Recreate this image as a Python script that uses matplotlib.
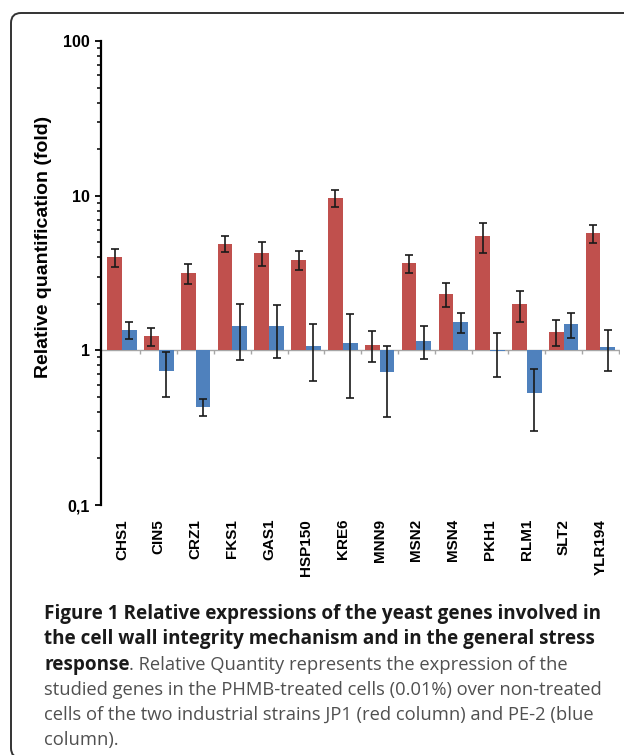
import matplotlib
matplotlib.use("Agg")
import matplotlib.pyplot as plt
import numpy as np
from matplotlib.patches import FancyBboxPatch
from matplotlib.ticker import FixedLocator, FixedFormatter, LogLocator, NullFormatter
from matplotlib.transforms import IdentityTransform


genes = ["CHS1", "CIN5", "CRZ1", "FKS1", "GAS1", "HSP150", "KRE6",
         "MNN9", "MSN2", "MSN4", "PKH1", "RLM1", "SLT2", "YLR194"]
jp1 = [4.0, 1.23, 3.14, 4.9, 4.27, 3.85, 9.6, 1.09, 3.66, 2.32, 5.46, 1.98, 1.31, 5.71]
jp1_err = [0.55, 0.16, 0.47, 0.6, 0.76, 0.55, 1.2, 0.25, 0.5, 0.41, 1.17, 0.45, 0.25, 0.74]
pe2 = [1.35, 0.74, 0.43, 1.43, 1.43, 1.06, 1.11, 0.72, 1.155, 1.52, 0.985, 0.53, 1.48, 1.05]
pe2_err = [0.17, 0.24, 0.055, 0.56, 0.54, 0.43, 0.62, 0.35, 0.28, 0.23, 0.31, 0.23, 0.27, 0.31]

y_ticks = [0.1, 1, 10, 100]
y_ticklabels = ["0,1", "1", "10", "100"]

caption_bold = ["Figure 1 Relative expressions of the yeast genes involved in",
                "the cell wall integrity mechanism and in the general stress",
                "response"]
caption_rest = [". Relative Quantity represents the expression of the",
                "studied genes in the PHMB-treated cells (0.01%) over non-treated",
                "cells of the two industrial strains JP1 (red column) and PE-2 (blue",
                "column)."]

RED = "#c0504d"
BLUE = "#4f81bd"

W, H = 624, 755
fig = plt.figure(figsize=(W / 100, H / 100), dpi=100)
fig.patch.set_facecolor("white")

# rounded frame, runs off the right and bottom edge
frame = FancyBboxPatch((11, -3), 700, H - 13 + 3,
                       boxstyle="round,pad=0,rounding_size=10",
                       transform=IdentityTransform(), fill=False,
                       edgecolor="#333333", linewidth=1.4)
fig.add_artist(frame)

ax = fig.add_axes([101 / W, 1 - 505 / H, (620 - 101) / W, (505 - 41) / H])
x = np.arange(len(genes))
w = 0.4

ax.set_yscale("log")
ax.set_ylim(0.1, 100)
ax.set_xlim(-0.57, len(genes) - 0.47)

jp1_arr = np.array(jp1)
pe2_arr = np.array(pe2)
ax.bar(x - w / 2, jp1_arr - 1, w, bottom=1, color=RED, zorder=2)
ax.bar(x + w / 2, pe2_arr - 1, w, bottom=1, color=BLUE, zorder=2)
err_kw = dict(fmt="none", ecolor="#1a1a1a", elinewidth=1.2, capsize=2.6, capthick=1.2, zorder=3)
ax.errorbar(x - w / 2, jp1_arr, yerr=jp1_err, **err_kw)
ax.errorbar(x + w / 2, pe2_arr, yerr=pe2_err, **err_kw)

# category axis drawn at 1, with ticks between groups
ax.axhline(1, color="#a6a6a6", linewidth=1.0, zorder=1)
ax.vlines(x + 0.5, 0.94, 1, color="#a6a6a6", linewidth=1.0, zorder=1)

for side in ["top", "right", "bottom"]:
    ax.spines[side].set_visible(False)
ax.spines["left"].set_linewidth(1.6)
ax.spines["left"].set_color("black")

ax.yaxis.set_major_locator(FixedLocator(y_ticks))
ax.yaxis.set_major_formatter(FixedFormatter(y_ticklabels))
ax.yaxis.set_minor_locator(LogLocator(base=10, subs=np.arange(2, 10)))
ax.yaxis.set_minor_formatter(NullFormatter())
ax.tick_params(axis="y", which="major", length=4, width=1.3, pad=4,
               labelsize=11.5, colors="black")
ax.tick_params(axis="y", which="minor", length=3, width=1.1)
for lab in ax.get_yticklabels():
    lab.set_fontweight("bold")
    lab.set_family("Liberation Sans")

ax.set_xticks(x)
ax.set_xticklabels(genes, rotation=90, fontsize=11, fontweight="bold",
                   family="Liberation Sans")
ax.tick_params(axis="x", length=0, pad=10)

ax.set_ylabel("Relative quantification (fold)", fontsize=14, fontweight="bold",
              family="Liberation Sans")
ax.yaxis.set_label_coords(-0.094, 0.556)

# caption: bold lead-in, then regular grey text
cap_x = 44 / W
baselines = [619, 644, 670, 695, 720, 745]
renderer = fig.canvas.get_renderer()
bold_size = 13.6
reg_size = 13.2
for i, txt in enumerate(caption_bold):
    t = fig.text(cap_x, 1 - baselines[i] / H, txt, family="Open Sans", fontweight="bold",
                 fontsize=bold_size, color="#1a1a1a", va="baseline", ha="left")
last = t.get_window_extent(renderer=renderer)
fig.text((last.x1 - 1) / W, 1 - baselines[2] / H, caption_rest[0], family="Open Sans",
         fontsize=reg_size, color="#505050", va="baseline", ha="left")
for j, txt in enumerate(caption_rest[1:]):
    fig.text(cap_x, 1 - baselines[3 + j] / H, txt, family="Open Sans",
             fontsize=reg_size, color="#505050", va="baseline", ha="left")

fig.savefig("out.png", dpi=100)
